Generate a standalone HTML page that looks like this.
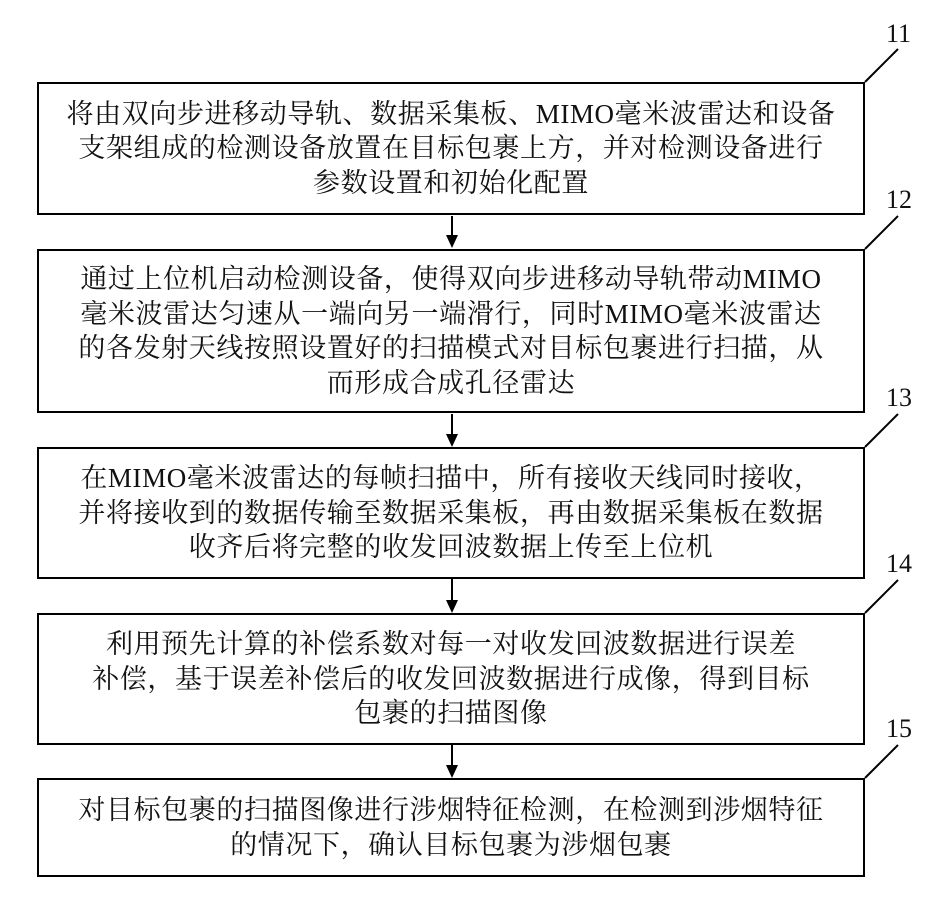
<!DOCTYPE html>
<html><head><meta charset="utf-8"><style>
body{margin:0;background:#fff;width:932px;height:904px;position:relative;overflow:hidden}
.b{position:absolute;left:37px;width:824px;border:2px solid #000;display:flex;align-items:center;justify-content:center;text-align:center;font-family:"Liberation Serif","Noto Serif CJK SC",serif;font-size:27px;letter-spacing:0.6px;line-height:34.5px;color:#111}
.l{position:absolute;font-family:"Liberation Serif",serif;font-size:26px;color:#111}
svg{position:absolute;left:0;top:0}
</style></head><body>
<svg width="932" height="904">
<g stroke="#000" stroke-width="2" fill="#000">
<line x1="865" y1="82" x2="898" y2="49"/>
<line x1="865" y1="249" x2="898" y2="216"/>
<line x1="865" y1="447" x2="898" y2="414"/>
<line x1="865" y1="613" x2="898" y2="580"/>
<line x1="865" y1="778" x2="898" y2="745"/>
<line x1="452" y1="216" x2="452" y2="236"/><polygon points="446,235 458,235 452,248" stroke="none"/>
<line x1="452" y1="414" x2="452" y2="434"/><polygon points="446,434 458,434 452,447" stroke="none"/>
<line x1="452" y1="579" x2="452" y2="600"/><polygon points="446,600 458,600 452,613" stroke="none"/>
<line x1="452" y1="745" x2="452" y2="765"/><polygon points="446,765 458,765 452,778" stroke="none"/>
</g></svg>
<div class="l" style="left:886px;top:19px">11</div>
<div class="l" style="left:886px;top:185px">12</div>
<div class="l" style="left:886px;top:383px">13</div>
<div class="l" style="left:886px;top:549px">14</div>
<div class="l" style="left:886px;top:714px">15</div>
<div class="b" style="top:82px;height:129px">将由双向步进移动导轨、数据采集板、MIMO毫米波雷达和设备<br>支架组成的检测设备放置在目标包裹上方，并对检测设备进行<br>参数设置和初始化配置</div>
<div class="b" style="top:249px;height:160px">通过上位机启动检测设备，使得双向步进移动导轨带动MIMO<br>毫米波雷达匀速从一端向另一端滑行，同时MIMO毫米波雷达<br>的各发射天线按照设置好的扫描模式对目标包裹进行扫描，从<br>而形成合成孔径雷达</div>
<div class="b" style="top:447px;height:128px">在MIMO毫米波雷达的每帧扫描中，所有接收天线同时接收，<br>并将接收到的数据传输至数据采集板，再由数据采集板在数据<br>收齐后将完整的收发回波数据上传至上位机</div>
<div class="b" style="top:613px;height:128px">利用预先计算的补偿系数对每一对收发回波数据进行误差<br>补偿，基于误差补偿后的收发回波数据进行成像，得到目标<br>包裹的扫描图像</div>
<div class="b" style="top:778px;height:95px">对目标包裹的扫描图像进行涉烟特征检测，在检测到涉烟特征<br>的情况下，确认目标包裹为涉烟包裹</div>
</body></html>
